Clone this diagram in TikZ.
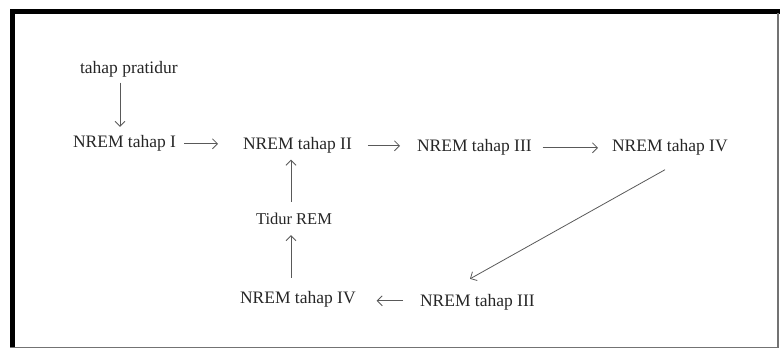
\documentclass[tikz,border=0pt]{standalone}
\usepackage{fontspec}
\setmainfont{Liberation Serif}
\usetikzlibrary{arrows.meta,calc}
\begin{document}
\begin{tikzpicture}[x=1pt,y=1pt,
  lbl/.style={anchor=base west,inner sep=0pt,outer sep=0pt,text=black!85,font=\fontsize{17.5}{20}\selectfont},
  arr/.style={draw=black!65,line width=0.8pt,-{Straight Barb[length=5pt,width=10pt,line width=0.8pt]}}]
\useasboundingbox (0,0) rectangle (780,350);
% frame
\fill[black] (10,336) rectangle (780,341);
\fill[black] (10,2) rectangle (14.5,341);
\draw[black!55,line width=1.5pt] (10,2.5) -- (778,2.5) -- (778,337);
% nodes
\node[lbl] (pre) at (80,276) {tahap pratidur};
\node[lbl] (n1) at (73,202) {NREM tahap I};
\node[lbl] (n2) at (243,200) {NREM tahap II};
\node[lbl] (n3) at (417,198) {NREM tahap III};
\node[lbl] (n4) at (612,198) {NREM tahap IV};
\node[lbl,font=\fontsize{16.5}{19}\selectfont] (rem) at (256,125) {Tidur REM};
\node[lbl] (b4) at (240,46) {NREM tahap IV};
\node[lbl] (b3) at (420,43) {NREM tahap III};
% connectors
\coordinate (a1) at ($(pre.south west)+(40,-5)$);
\draw[arr,shorten >=9pt] (a1) -- (a1 |- n1.north);
\coordinate (a2) at ($(n1.east)+(8,0)$);
\draw[arr,shorten >=25pt] (a2) -- (a2 -| n2.west);
\coordinate (a3) at ($(n2.east)+(16,0)$);
\draw[arr,shorten >=17pt] (a3) -- (a3 -| n3.west);
\coordinate (a4) at ($(n3.east)+(11,0)$);
\draw[arr,shorten >=14pt] (a4) -- (a4 -| n4.west);
\coordinate (a5) at ($(n4.south west)+(53,-14)$);
\coordinate (a6) at ($(b3.north west)+(50,16)$);
\draw[arr] (a5) -- (a6);
\coordinate (a7) at ($(b3.west)+(-17,2)$);
\draw[arr,shorten >=21pt] (a7) -- (a7 -| b4.east);
\coordinate (a8) at ($(b4.north west)+(51,14)$);
\draw[arr,shorten >=10pt] (a8) -- (a8 |- rem.south);
\coordinate (a9) at ($(rem.north west)+(35,12)$);
\draw[arr,shorten >=6pt] (a9) -- (a9 |- n2.south);
\end{tikzpicture}
\end{document}
